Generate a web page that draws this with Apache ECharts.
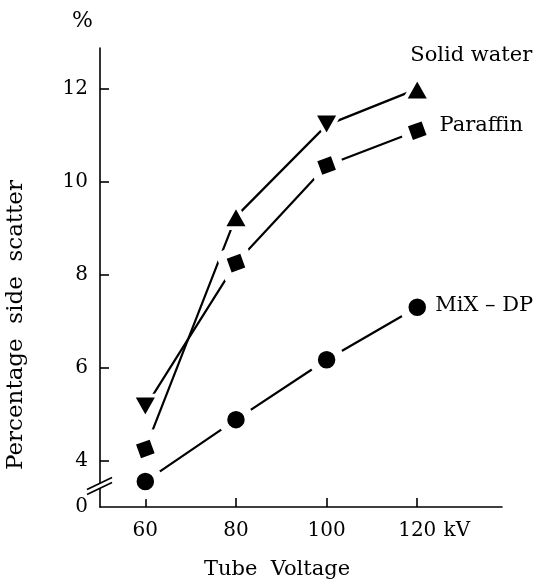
<!DOCTYPE html>
<html>
<head>
<meta charset="utf-8">
<script src="https://cdn.jsdelivr.net/npm/echarts@6/dist/echarts.min.js"></script>
<style>
  html, body { margin: 0; padding: 0; background: #fff; }
  #chart { width: 535px; height: 585px; }
</style>
</head>
<body>
<div id="chart"></div>
<script>
// Tube voltage settings (kV)
const voltages = [60, 80, 100, 120];

// Percentage side scatter for each phantom material
const solidWater = [4.25, 9.25, 11.22, 12.0];
const paraffin = [5.15, 8.25, 10.35, 11.1];
const mixDP = [3.55, 4.88, 6.17, 7.3];

const seriesNames = ['Solid water', 'Paraffin', 'MiX – DP'];

// Axis ticks; the bottom of the y axis is broken, its floor is labelled 0
const xTicks = [60, 80, 100, 120];
const yTicks = [4, 6, 8, 10, 12];
const yFloor = 3;
const yFloorLabel = '0';

// Marker shape drawn at each point of a line
const solidWaterMarkers = ['square', 'up', 'down', 'up'];
const paraffinMarkers = ['down', 'square', 'square', 'square'];
const mixDPMarkers = ['dot', 'dot', 'dot', 'dot'];

const FONT = 'DejaVu Serif';
const INK = '#000';

// A white halo (the marker's border) leaves a small gap where the line meets it.
// Triangles shrink faster under a border, so they get a thinner halo.
const MARKERS = {
  up: { symbol: 'triangle', symbolSize: [26, 23], symbolRotate: 0, halo: 4 },
  down: { symbol: 'triangle', symbolSize: [26, 23], symbolRotate: 180, halo: 4 },
  square: { symbol: 'rect', symbolSize: 23.5, symbolRotate: 20, halo: 9 },
  dot: { symbol: 'circle', symbolSize: 26.5, symbolRotate: 0, halo: 9 }
};

const chart = echarts.init(document.getElementById('chart'), null, { renderer: 'canvas' });

function points(values, markers) {
  return voltages.map((v, i) => {
    const m = MARKERS[markers[i]];
    return {
      value: [v, values[i]],
      symbol: m.symbol,
      symbolSize: m.symbolSize,
      symbolRotate: m.symbolRotate,
      itemStyle: { color: INK, borderColor: '#fff', borderWidth: m.halo, borderJoin: 'round' }
    };
  });
}

function endLabel(offset) {
  return {
    show: true,
    position: 'inside',
    offset: offset,
    color: INK,
    fontFamily: FONT,
    fontSize: 21,
    formatter: p => (p.dataIndex === voltages.length - 1 ? p.seriesName : '')
  };
}

const lineStyle = { color: INK, width: 2.2 };

function lineSeries(name, values, markers, labelOffset) {
  return {
    name: name,
    type: 'line',
    data: points(values, markers),
    lineStyle: lineStyle,
    itemStyle: { color: INK },
    label: endLabel(labelOffset)
  };
}

chart.setOption({
  animation: false,
  backgroundColor: '#fff',
  grid: { left: 100, right: 33, top: 48, bottom: 78 },
  xAxis: {
    type: 'value',
    min: 50,
    max: 138.7,
    axisLine: { show: true, onZero: false, lineStyle: { color: INK, width: 1.6 } },
    axisTick: { show: true, inside: true, length: 9, customValues: xTicks, lineStyle: { color: INK, width: 1.6 } },
    axisLabel: {
      customValues: xTicks,
      margin: 14,
      color: INK,
      fontFamily: FONT,
      fontSize: 20,
      formatter: v => (v === xTicks[xTicks.length - 1] ? '{p|}' + v + '{u|kV}' : String(v)),
      rich: {
        p: { width: 36 },
        u: { width: 31, padding: [0, 0, 0, 5], fontFamily: FONT, fontSize: 20, color: INK }
      }
    },
    splitLine: { show: false }
  },
  yAxis: {
    type: 'value',
    min: yFloor,
    max: 12.88,
    axisLine: { show: true, lineStyle: { color: INK, width: 1.6 } },
    axisTick: { show: true, inside: true, length: 9, customValues: yTicks, lineStyle: { color: INK, width: 1.6 } },
    axisLabel: {
      customValues: [yFloor].concat(yTicks),
      margin: 12,
      color: INK,
      fontFamily: FONT,
      fontSize: 20,
      formatter: v => (v === yFloor ? yFloorLabel : String(v))
    },
    splitLine: { show: false }
  },
  series: [
    lineSeries(seriesNames[0], solidWater, solidWaterMarkers, [54, -33]),
    lineSeries(seriesNames[1], paraffin, paraffinMarkers, [64, -5]),
    lineSeries(seriesNames[2], mixDP, mixDPMarkers, [67, -2])
  ]
});

// Axis break sign on the y axis, between the floor and the first tick
const brk = chart.convertToPixel({ gridIndex: 0 }, [50, 3.44]);
const bx = brk[0], by = brk[1];
chart.setOption({
  graphic: [
    {
      type: 'text',
      left: 72, top: 10,
      style: { text: '%', font: '22px "' + FONT + '"', fill: INK }
    },
    {
      type: 'text',
      x: 16, y: 325,
      rotation: Math.PI / 2,
      style: {
        text: 'Percentage  side  scatter',
        font: '23px "' + FONT + '"',
        fill: INK,
        align: 'center',
        verticalAlign: 'middle'
      }
    },
    {
      type: 'text',
      x: 277, y: 570,
      style: {
        text: 'Tube  Voltage',
        font: '21px "' + FONT + '"',
        fill: INK,
        align: 'center',
        verticalAlign: 'middle'
      }
    },
    {
      type: 'polygon',
      shape: { points: [[bx - 12, by + 3], [bx + 12, by - 9], [bx + 12, by - 4], [bx - 12, by + 8]] },
      style: { fill: '#fff' },
      z: 100
    },
    {
      type: 'polyline',
      shape: { points: [[bx - 13, by + 3], [bx + 12, by - 9]] },
      style: { stroke: INK, lineWidth: 1.6 },
      z: 101
    },
    {
      type: 'polyline',
      shape: { points: [[bx - 13, by + 8], [bx + 12, by - 4]] },
      style: { stroke: INK, lineWidth: 1.6 },
      z: 101
    }
  ]
});
</script>
</body>
</html>
